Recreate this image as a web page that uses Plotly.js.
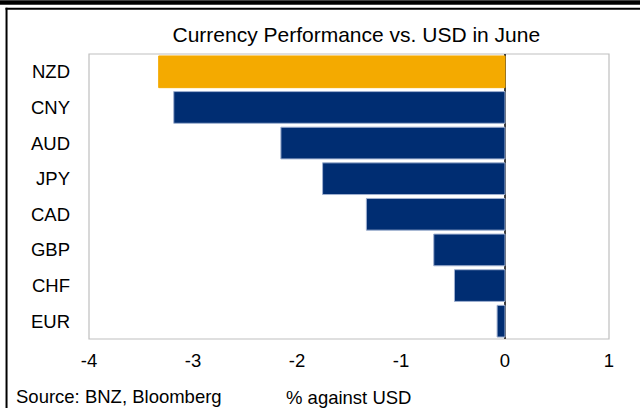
<!DOCTYPE html>
<html>
<head>
<meta charset="utf-8">
<script src="https://cdn.plot.ly/plotly-3.0.1.min.js"></script>
<style>html,body{margin:0;padding:0;background:#fff;}#chart{width:640px;height:408px;}</style>
</head>
<body>
<div id="chart"></div>
<script>
// Data
const currencies = ["NZD", "CNY", "AUD", "JPY", "CAD", "GBP", "CHF", "EUR"];
const changes = [-3.33, -3.185, -2.155, -1.754, -1.333, -0.685, -0.486, -0.076];
const xTicks = [-4, -3, -2, -1, 0, 1];
const highlight = "NZD";

const W = 640, H = 408;
const M = {l: 89.4, r: 31, t: 53.7, b: 69};
const pw = W - M.l - M.r, ph = H - M.t - M.b;
const px = x => (x - M.l) / pw;
const py = y => (H - M.b - y) / ph;

const font = "Liberation Sans, Arial, sans-serif";
const colors = currencies.map(c => c === highlight ? "#F4AA00" : "#002D72");
const lineColors = currencies.map(c => c === highlight ? "#F4AA00" : "#9FB0D0");

const trace = {
  type: "bar",
  orientation: "h",
  y: currencies,
  x: changes,
  marker: {color: colors, line: {color: lineColors, width: 1}},
  hoverinfo: "none"
};

const layout = {
  width: W, height: H,
  margin: M,
  paper_bgcolor: "#ffffff",
  plot_bgcolor: "#ffffff",
  showlegend: false,
  bargap: 0.11,
  font: {family: font, color: "#000000"},
  title: {
    text: "Currency Performance vs. USD in June",
    font: {family: font, size: 21, color: "#000"},
    xref: "paper", x: px(356.5), xanchor: "center",
    yref: "container", y: 1 - 35 / H, yanchor: "middle"
  },
  xaxis: {
    range: [-4, 1],
    tickvals: xTicks,
    ticktext: xTicks.map(String),
    showgrid: false,
    zeroline: true, zerolinecolor: "#404040", zerolinewidth: 1.2,
    showline: false,
    ticks: "",
    tickfont: {family: font, size: 18.5, color: "#000"},
    ticklabelstandoff: 8,
    fixedrange: true
  },
  yaxis: {
    categoryorder: "array",
    categoryarray: currencies.slice().reverse(),
    showgrid: false, zeroline: false, showline: false,
    ticks: "",
    tickfont: {family: font, size: 18.5, color: "#000"},
    ticklabelstandoff: 18,
    fixedrange: true
  },
  shapes: [
    {type: "rect", xref: "paper", yref: "paper", x0: 0, x1: 1, y0: 0, y1: 1,
     line: {color: "#bfbfbf", width: 1.2}, fillcolor: "rgba(0,0,0,0)", layer: "below"},
    {type: "rect", xref: "paper", yref: "paper", x0: px(0), x1: px(W), y0: py(0), y1: py(4.5),
     line: {width: 0}, fillcolor: "#000"},
    {type: "line", xref: "paper", yref: "paper", x0: px(6), x1: px(W), y0: py(8.5), y1: py(8.5),
     line: {color: "#000", width: 2}},
    {type: "line", xref: "paper", yref: "paper", x0: px(7), x1: px(7), y0: py(7.5), y1: py(H),
     line: {color: "#000", width: 2}}
  ],
  annotations: [
    {text: "Source: BNZ, Bloomberg", xref: "paper", yref: "paper",
     x: px(14), xanchor: "left", y: py(397), yanchor: "middle", showarrow: false,
     font: {family: font, size: 18.5, color: "#000"}},
    {text: "% against USD", xref: "paper", yref: "paper",
     x: px(349), xanchor: "center", y: py(398), yanchor: "middle", showarrow: false,
     font: {family: font, size: 18.5, color: "#000"}}
  ]
};

Plotly.newPlot("chart", [trace], layout, {displayModeBar: false, staticPlot: true});
</script>
</body>
</html>
